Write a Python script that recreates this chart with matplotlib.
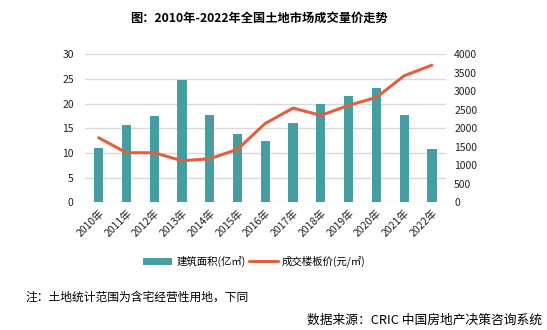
import matplotlib
matplotlib.use("Agg")
import matplotlib.pyplot as plt
import numpy as np

plt.rcParams["font.family"] = ["Noto Sans CJK SC", "DejaVu Sans"]

# ── data ─────────────────────────────────────────────
years = [f"{y}年" for y in range(2010, 2023)]
area = [11.1, 15.7, 17.5, 24.9, 17.7, 13.9, 12.4, 16.1, 19.9, 21.5, 23.2, 17.7, 10.8]
price = [1746, 1341, 1341, 1124, 1178, 1432, 2135, 2549, 2351, 2622, 2838, 3422, 3711]

bar_color = "#469EA3"
line_color = "#E3603F"

fig = plt.figure(figsize=(5.47, 3.30), dpi=100)
ax = fig.add_axes([0.155, 0.387, 0.66, 0.448])
ax2 = ax.twinx()

x = np.arange(len(years))
ax.bar(x, area, width=0.33, color=bar_color, label="建筑面积(亿㎡)", zorder=2)
ax2.plot(x, price, color=line_color, linewidth=2.2, label="成交楼板价(元/㎡)",
         solid_joinstyle="round", solid_capstyle="round")

ax.set_xlim(-0.5, len(years) - 0.5)
ax.set_ylim(0, 30)
ax.set_yticks(range(0, 31, 5))
ax2.set_ylim(0, 4000)
ax2.set_yticks(range(0, 4001, 500))

ax.grid(axis="y", color="#d9d9d9", linewidth=1, zorder=0)
ax.set_axisbelow(True)

for a in (ax, ax2):
    for s in a.spines.values():
        s.set_visible(False)
    a.tick_params(length=0, labelsize=7.5, colors="#222222")
ax.tick_params(axis="y", pad=8)
ax2.tick_params(axis="y", pad=6)

ax.set_xticks(x)
ax.set_xticklabels(years, rotation=45, ha="right", rotation_mode="anchor", fontsize=7.5)
ax.tick_params(axis="x", pad=4)

# legend below the axes
h1, l1 = ax.get_legend_handles_labels()
h2, l2 = ax2.get_legend_handles_labels()
fig.legend(h1 + h2, l1 + l2, loc="center", bbox_to_anchor=(0.465, 0.207),
           ncol=2, frameon=False, fontsize=7.5, handlelength=2.8,
           handleheight=0.6, columnspacing=0.3, handletextpad=0.4)

fig.text(0.474, 0.945, "图：2010年-2022年全国土地市场成交量价走势",
         ha="center", va="center", fontsize=8.8, fontweight="bold")
fig.text(0.046, 0.1, "注：土地统计范围为含宅经营性用地，下同",
         ha="left", va="center", fontsize=8.5)
fig.text(0.99, 0.028, "数据来源：CRIC 中国房地产决策咨询系统",
         ha="right", va="center", fontsize=9.2)

fig.savefig("out.png", dpi=100, facecolor="white")
